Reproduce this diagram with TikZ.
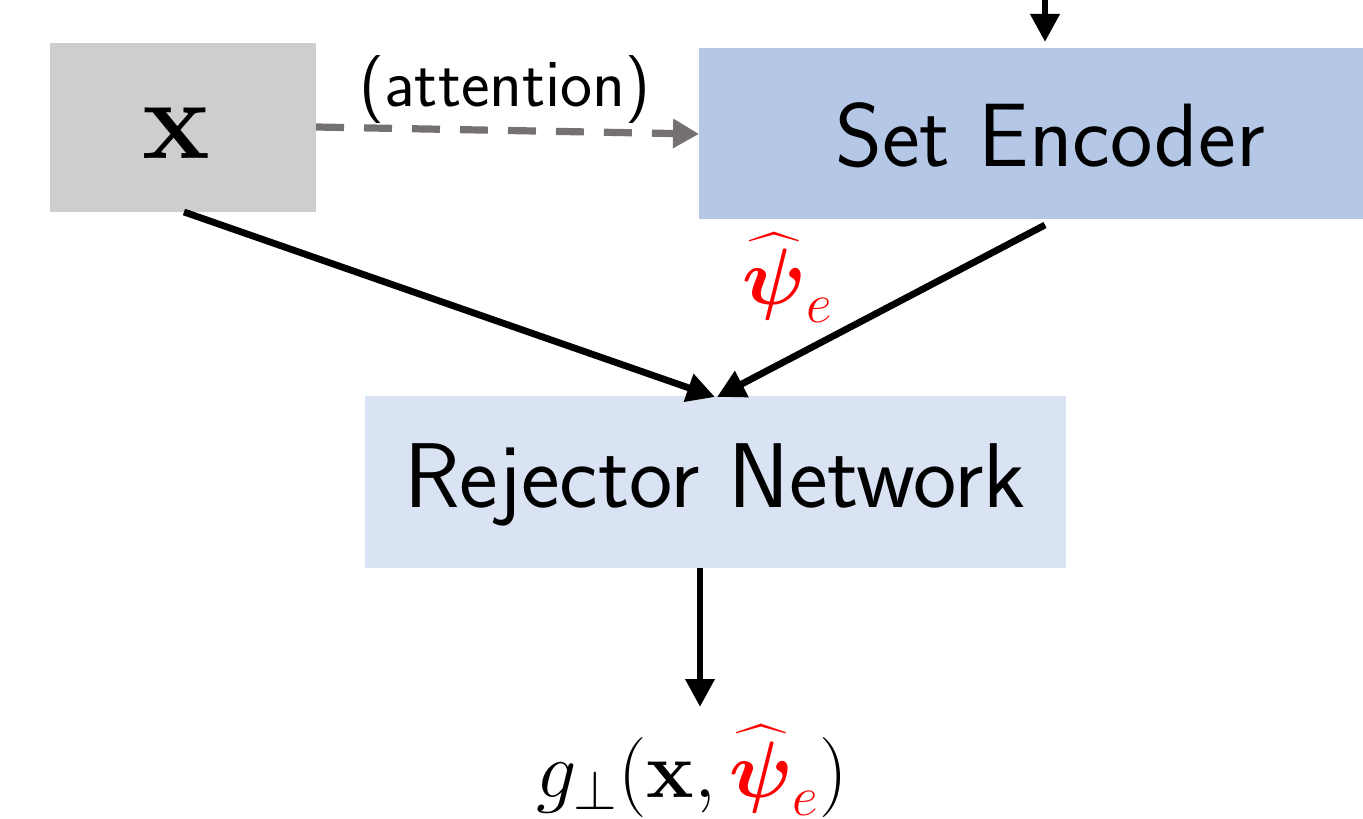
\RequirePackage{fix-cm}
\documentclass[tikz,border=0pt]{standalone}
\usepackage{amsmath}
\usetikzlibrary{arrows.meta}
\definecolor{xgray}{HTML}{CFCDCE}
\definecolor{encblue}{HTML}{B4C7E7}
\definecolor{rejblue}{HTML}{DAE3F3}
\definecolor{dashgray}{HTML}{767171}
\begin{document}
\begin{tikzpicture}[x=0.5pt,y=-0.5pt,
  box/.style={inner sep=0pt, outer sep=0pt, anchor=north west},
  flow/.style={line width=3.4pt, -{Triangle[length=14pt,width=14pt]}},
  lbl/.style={inner sep=0pt},
  mathlbl/.style={inner sep=0pt, font=\fontsize{40}{46}\selectfont}]
\useasboundingbox (0,0) rectangle (1363,818);
% blocks
\node[box, fill=xgray, minimum width=133pt, minimum height=84.5pt] (xin) at (50,43) {};
\node[box, fill=encblue, minimum width=332pt, minimum height=85.5pt] (enc) at (699,48) {};
\node[box, fill=rejblue, minimum width=350.5pt, minimum height=86pt] (rej) at (365,396) {};
% block texts
\node[lbl, font=\fontsize{57}{64}\selectfont] (xt) at (176,133) {$\mathbf{x}$};
\node[lbl, font=\sffamily\fontsize{45}{52}\selectfont] (enct) at (1050,135) {Set Encoder};
\node[lbl, font=\sffamily\fontsize{46}{54}\selectfont] (rejt) at (715,485) {Rejector Network};
% connector end points
\coordinate (top) at (1045,0);
\coordinate (dashs) at (316,127);
\coordinate (dashe) at (699,134);
\coordinate (xs) at (184,212);
\coordinate (es) at (1045,225);
\coordinate (tipa) at (715,397);
\coordinate (tipb) at (717,397);
\coordinate (rs) at (700,568);
\coordinate (out) at (700,707);
% connectors
\draw[flow] (top) -- (1045,42);
\draw[line width=3.6pt, dashgray, dash pattern=on 14pt off 10pt,
  -{Triangle[length=13pt,width=14pt]}] (dashs) -- (dashe);
\draw[flow] (xs) -- (tipa);
\draw[flow] (es) -- (tipb);
\draw[flow] (rs) -- (out);
% labels
\node[lbl, font=\sffamily\fontsize{34}{40}\selectfont] (att) at (505,90) {(attention)};
\node[mathlbl, red] (psi) at (788,278) {$\widehat{\boldsymbol{\psi}}_e$};
\node[mathlbl, anchor=base] (g) at (692,797) {$g_\perp(\mathbf{x},\textcolor{red}{\widehat{\boldsymbol{\psi}}_e})$};
\end{tikzpicture}
\end{document}
